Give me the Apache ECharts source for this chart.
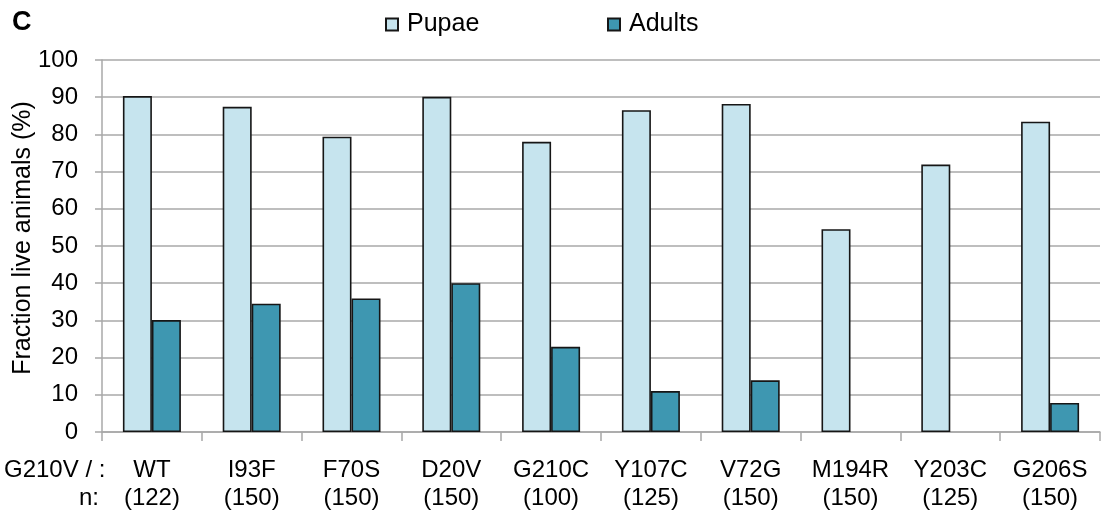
<!DOCTYPE html>
<html>
<head>
<meta charset="utf-8">
<title>Fraction live animals</title>
<script src="https://cdn.jsdelivr.net/npm/echarts@6/dist/echarts.min.js"></script>
<style>
	html, body { margin: 0; padding: 0; background: #fff; }
	#chart { width: 1103px; height: 514px; }
</style>
</head>
<body>
<div id="chart"></div>
<script>
// data
var mutants = ['WT', 'I93F', 'F70S', 'D20V', 'G210C', 'Y107C', 'V72G', 'M194R', 'Y203C', 'G206S'];
var nCounts = [122, 150, 150, 150, 100, 125, 150, 150, 125, 150];
var pupae = [90.3, 87.4, 79.4, 90.1, 78.0, 86.5, 88.2, 54.5, 71.9, 83.4];
// no adults survived for M194R and Y203C, so no bar is drawn there
var adults = [30.1, 34.5, 35.9, 40.0, 22.9, 11.0, 13.9, null, null, 7.8];
var yTicks = [0, 10, 20, 30, 40, 50, 60, 70, 80, 90, 100];

var FONT = '"Liberation Sans", Arial, sans-serif';
var GRID_GRAY = '#a8a8a8';

var categories = [];
for (var i = 0; i < mutants.length; i++) {
	categories.push(mutants[i] + '\n(' + nCounts[i] + ')');
}

var myChart = echarts.init(document.getElementById('chart'), null, { renderer: 'canvas' });

var option = {
	animation: false,
	backgroundColor: '#fff',
	textStyle: { fontFamily: FONT },
	grid: { left: 102, right: 3, top: 60, bottom: 82, containLabel: false, outerBoundsMode: 'none' },
	// two legends so each item sits where it does in the figure
	legend: [{
		left: 385, top: 12, padding: 0, itemWidth: 12, itemHeight: 12, itemGap: 0, icon: 'rect',
		data: ['Pupae'],
		textStyle: { fontSize: 25, color: '#000', fontFamily: FONT, padding: [0, 0, 0, 4] }
	}, {
		left: 607, top: 12, padding: 0, itemWidth: 12, itemHeight: 12, itemGap: 0, icon: 'rect',
		data: ['Adults'],
		textStyle: { fontSize: 25, color: '#000', fontFamily: FONT, padding: [0, 0, 0, 4] }
	}],
	xAxis: {
		type: 'category',
		data: categories,
		boundaryGap: true,
		axisLine: { lineStyle: { color: GRID_GRAY, width: 1.5 } },
		axisTick: { show: true, length: 9, lineStyle: { color: GRID_GRAY, width: 1.5 } },
		axisLabel: {
			interval: 0, margin: 24, fontSize: 24, lineHeight: 28,
			color: '#000', fontFamily: FONT, align: 'center'
		},
		splitLine: { show: false }
	},
	yAxis: {
		type: 'value',
		min: yTicks[0],
		max: yTicks[yTicks.length - 1],
		interval: 10,
		name: 'Fraction live animals (%)',
		nameLocation: 'middle',
		nameGap: 66,
		nameMoveOverlap: false,
		nameTextStyle: { fontSize: 25, color: '#000', fontFamily: FONT, padding: [0, 0, 0, 16] },
		axisLine: { show: true, lineStyle: { color: GRID_GRAY, width: 1.5 } },
		axisTick: { show: true, length: 7, lineStyle: { color: GRID_GRAY, width: 1.5 } },
		axisLabel: { margin: 24, fontSize: 24, color: '#000', fontFamily: FONT },
		splitLine: { show: true, lineStyle: { color: GRID_GRAY, width: 1.5 } }
	},
	series: [{
		name: 'Pupae',
		type: 'bar',
		data: pupae,
		barWidth: 29,
		barGap: '0%',
		itemStyle: { color: '#c6e4ee', borderColor: '#161616', borderWidth: 1.6 }
	}, {
		name: 'Adults',
		type: 'bar',
		data: adults,
		barWidth: 29,
		barGap: '0%',
		itemStyle: { color: '#3e97b1', borderColor: '#161616', borderWidth: 1.6 }
	}],
	graphic: [{
		type: 'text', left: 12, top: 9,
		style: { text: 'C', font: 'bold 27px ' + FONT, fill: '#000' }
	}, {
		type: 'text', left: 4, top: 458,
		style: { text: 'G210V / :', font: '24px ' + FONT, fill: '#000' }
	}, {
		type: 'text', right: 1004, top: 486,
		style: { text: 'n:', font: '24px ' + FONT, fill: '#000' }
	}]
};

myChart.setOption(option);
window.onresize = function() {
	myChart.resize();
};
</script>
</body>
</html>
